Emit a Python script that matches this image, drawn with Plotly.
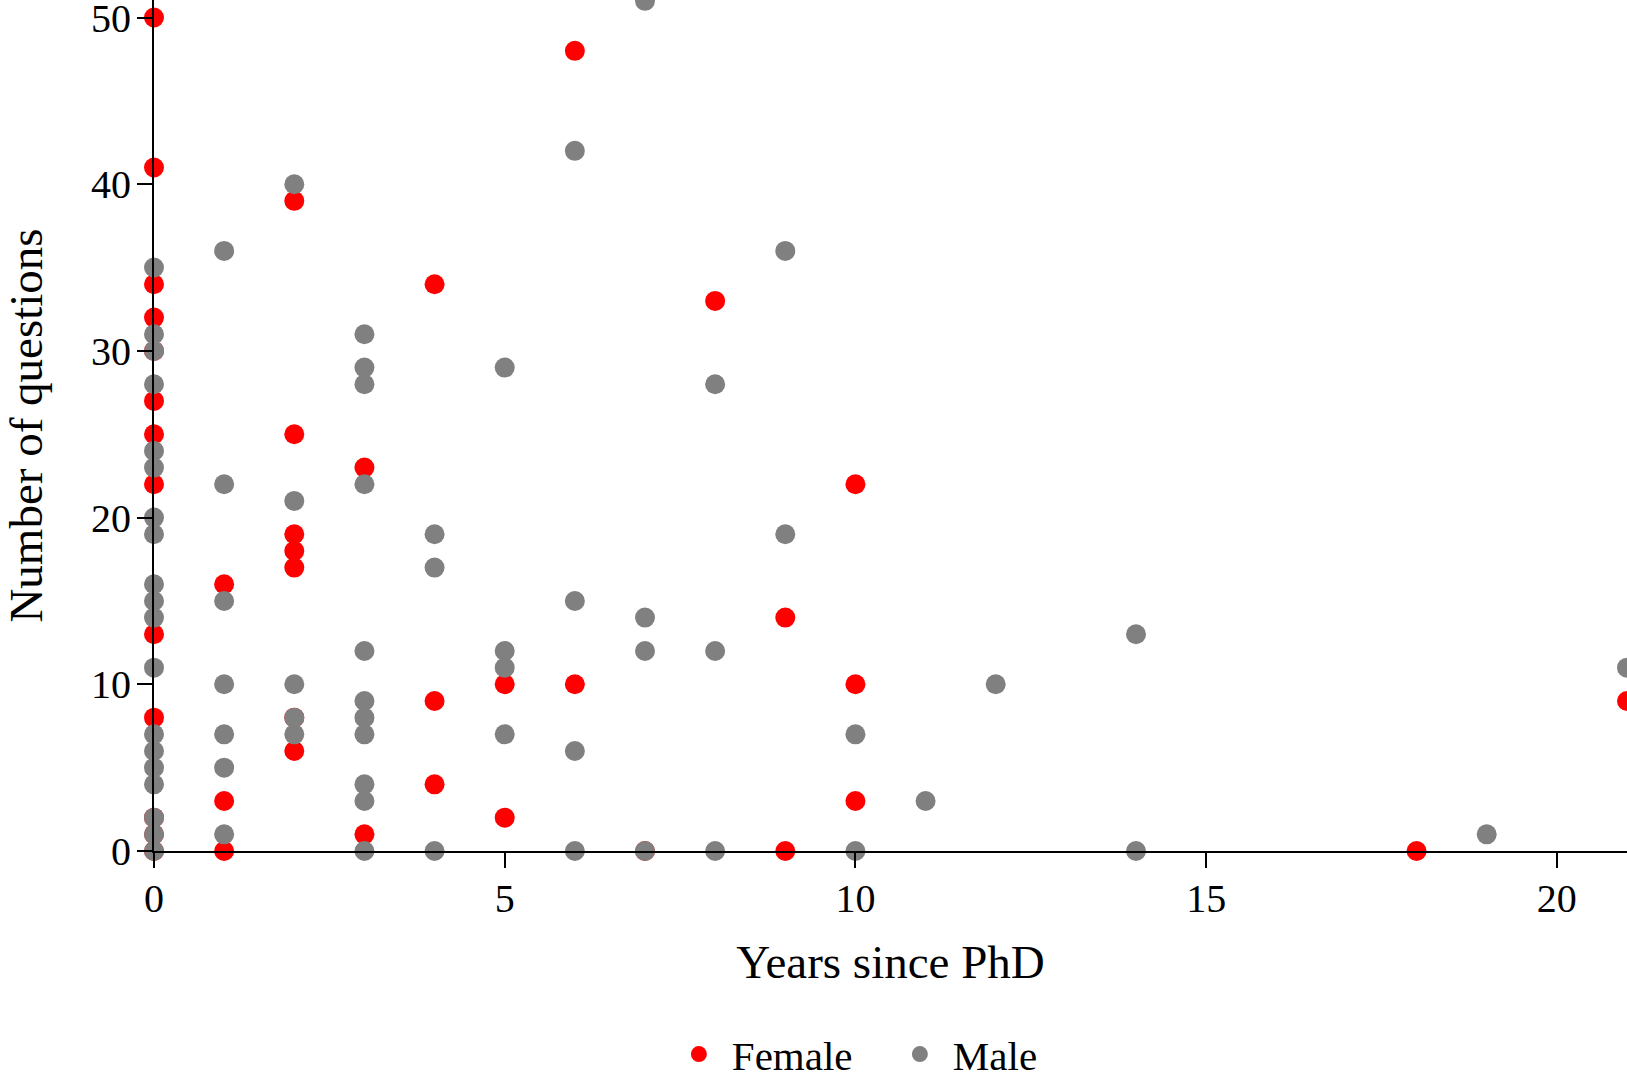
import plotly.graph_objects as go

# Female: years since PhD and number of questions
female_years = [0, 0, 0, 0, 0, 0, 0, 0, 0, 0, 0, 0, 0,
                1, 1, 1,
                2, 2, 2, 2, 2, 2, 2,
                3, 3,
                4, 4, 4,
                5, 5,
                6, 6,
                7,
                8,
                9, 9,
                10, 10, 10,
                18,
                21]
female_questions = [50, 41, 34, 32, 30, 27, 25, 22, 13, 8, 2, 1, 0,
                    16, 3, 0,
                    39, 25, 19, 18, 17, 8, 6,
                    23, 1,
                    34, 9, 4,
                    10, 2,
                    48, 10,
                    0,
                    33,
                    14, 0,
                    22, 10, 3,
                    0,
                    9]

# Male
male_years = [0] * 19 + [1] * 7 + [2] * 5 + [3] * 11 + [4] * 3 + [5] * 4 + [6] * 4 + \
             [7] * 4 + [8] * 3 + [9] * 2 + [10] * 2 + [11] + [12] + [14] * 2 + [19] + [21]
male_questions = [35, 31, 30, 28, 24, 23, 20, 19, 16, 15, 14, 11, 7, 6, 5, 4, 2, 1, 0,
                  36, 22, 15, 10, 7, 5, 1,
                  40, 21, 10, 8, 7,
                  31, 29, 28, 22, 12, 9, 8, 7, 4, 3, 0,
                  19, 17, 0,
                  29, 12, 11, 7,
                  42, 15, 6, 0,
                  51, 14, 12, 0,
                  28, 12, 0,
                  36, 19,
                  7, 0,
                  3,
                  10,
                  13, 0,
                  1,
                  11]

x_ticks = [0, 5, 10, 15, 20]
y_ticks = [0, 10, 20, 30, 40, 50]

FONT = "Liberation Serif"

fig = go.Figure()
fig.add_trace(go.Scatter(x=female_years, y=female_questions, mode="markers", name="Female",
                         marker=dict(color="#ff0000", size=20, line=dict(width=0)),
                         cliponaxis=False))
fig.add_trace(go.Scatter(x=male_years, y=male_questions, mode="markers", name="Male",
                         marker=dict(color="#808080", size=20, line=dict(width=0)),
                         cliponaxis=False))

axis_common = dict(showgrid=False, zeroline=False, showline=True, linecolor="black", linewidth=2,
                   ticks="outside", ticklen=15, tickwidth=2, tickcolor="black",
                   ticklabeloverflow="allow",
                   tickfont=dict(family=FONT, size=40, color="black"))

fig.update_layout(
    width=1627, height=1076,
    margin=dict(l=154, r=0, t=0, b=225, autoexpand=False),
    plot_bgcolor="white", paper_bgcolor="white",
    font=dict(family=FONT, color="black"),
    xaxis=dict(range=[0, 21.0], tickvals=x_ticks, ticklabelstandoff=-4,
               title=dict(text="Years since PhD", font=dict(family=FONT, size=47), standoff=25),
               **axis_common),
    yaxis=dict(range=[0, 51.05], tickvals=y_ticks, ticklabelstandoff=-2,
               title=dict(text="Number of questions", font=dict(family=FONT, size=47), standoff=49),
               **axis_common),
    legend=dict(orientation="h", x=0.3475, xanchor="left", y=-0.239, yanchor="middle",
                font=dict(family=FONT, size=41, color="black"), itemsizing="trace",
                itemwidth=56, entrywidth=150, entrywidthmode="pixels",
                bgcolor="rgba(0,0,0,0)"),
    showlegend=True,
)

fig.write_html("out.html", config={"displayModeBar": False},
               post_script="document.body.style.margin='0';document.body.style.overflow='hidden';")
